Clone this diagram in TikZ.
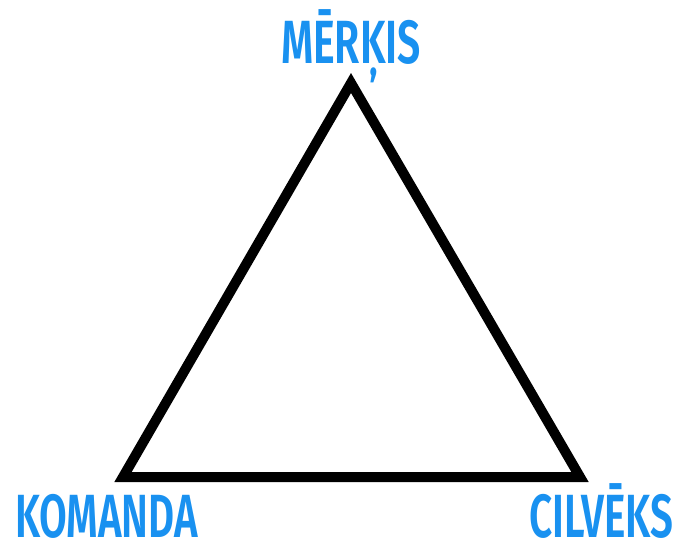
\documentclass[tikz,border=0pt]{standalone}
\usepackage{fontspec}
\setmainfont{Fira Sans}[UprightFont=* SemiBold, BoldFont=* SemiBold]
\usepackage{graphicx}
\definecolor{labelblue}{RGB}{25,145,240}
\newcommand{\tlabel}[2]{\resizebox{#1}{\height}{\fontsize{61}{61}\selectfont #2}}

\begin{document}
\begin{tikzpicture}[x=1pt, y=-1pt,
    side/.style={line width=10pt, line join=miter},
    vlabel/.style={text=labelblue, inner sep=0pt, anchor=base}]
    \useasboundingbox (0,0) rectangle (684,542);

    \coordinate (goal) at (351,83);
    \coordinate (team) at (123,477);
    \coordinate (person) at (580,477);

    % trijstūris
    \draw[side] (goal) -- (team) -- (person) -- cycle;

    % virsotņu nosaukumi
    \node[vlabel] (goaltext) at (351,63) {\tlabel{140pt}{MĒRĶIS}};
    \node[vlabel] (teamtext) at (106.5,537) {\tlabel{183pt}{KOMANDA}};
    \node[vlabel] (persontext) at (601,537) {\tlabel{144pt}{CILVĒKS}};
\end{tikzpicture}
\end{document}
